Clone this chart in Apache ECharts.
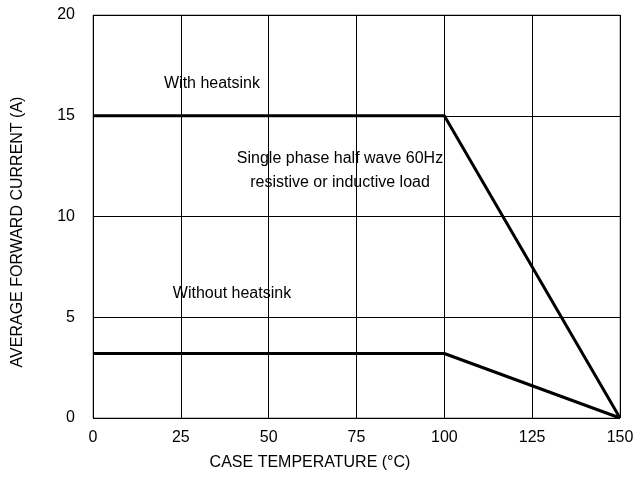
<!DOCTYPE html>
<html>
<head>
<meta charset="utf-8">
<script src="https://cdn.jsdelivr.net/npm/echarts@6/dist/echarts.min.js"></script>
<style>
  html, body { margin: 0; padding: 0; background: #fff; }
  #chart { width: 638px; height: 479px; }
</style>
</head>
<body>
<div id="chart"></div>
<script>
// curve data
var tempWith = [0, 100, 150];
var currentWith = [15, 15, 0];
var tempWithout = [0, 100, 150];
var currentWithout = [3.2, 3.2, 0];

var xTicks = [0, 25, 50, 75, 100, 125, 150];
var yTicks = [0, 5, 10, 15, 20];

function pairs(xs, ys) {
  var out = [];
  for (var i = 0; i < xs.length; i++) out.push([xs[i], ys[i]]);
  return out;
}

var font = 'Liberation Sans, Arial, sans-serif';
var chart = echarts.init(document.getElementById('chart'));

chart.setOption({
  animation: false,
  grid: { left: 93, right: 18, top: 15, bottom: 61, show: true, borderColor: '#808080', borderWidth: 1 },
  xAxis: {
    type: 'value', min: xTicks[0], max: xTicks[xTicks.length - 1], interval: 25,
    axisLine: { show: false },
    axisTick: { show: false },
    splitLine: { show: true, lineStyle: { color: '#000', width: 1 } },
    axisLabel: { color: '#000', fontSize: 16, fontFamily: font, margin: 12 }
  },
  yAxis: {
    type: 'value', min: yTicks[0], max: yTicks[yTicks.length - 1], interval: 5,
    axisLine: { show: false },
    axisTick: { show: false },
    splitLine: { show: true, lineStyle: { color: '#000', width: 1 } },
    axisLabel: { color: '#000', fontSize: 16, fontFamily: font, margin: 18 }
  },
  series: [
    {
      name: 'With heatsink', type: 'line', symbol: 'none',
      lineStyle: { color: '#000', width: 3 },
      data: pairs(tempWith, currentWith)
    },
    {
      name: 'Without heatsink', type: 'line', symbol: 'none',
      lineStyle: { color: '#000', width: 3 },
      data: pairs(tempWithout, currentWithout)
    }
  ],
  graphic: [
    { type: 'text', x: 212, y: 84, style: { text: 'With heatsink', font: '16px ' + font, fill: '#000', textAlign: 'center', textVerticalAlign: 'middle' } },
    { type: 'text', x: 340, y: 171, style: { text: 'Single phase half wave 60Hz\nresistive or inductive load', font: '16px ' + font, fill: '#000', textAlign: 'center', textVerticalAlign: 'middle', lineHeight: 24 } },
    { type: 'text', x: 232, y: 294, style: { text: 'Without heatsink', font: '16px ' + font, fill: '#000', textAlign: 'center', textVerticalAlign: 'middle' } },
    { type: 'text', x: 310, y: 463, style: { text: 'CASE TEMPERATURE (°C)', font: '16px ' + font, fill: '#000', textAlign: 'center', textVerticalAlign: 'middle' } },
    { type: 'text', x: 18, y: 232, rotation: Math.PI / 2, style: { text: 'AVERAGE FORWARD CURRENT (A)', font: '16px ' + font, fill: '#000', textAlign: 'center', textVerticalAlign: 'middle' } }
  ]
});
</script>
</body>
</html>
